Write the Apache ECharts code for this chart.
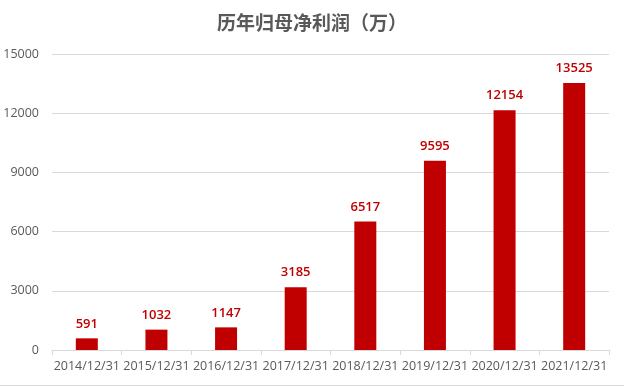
<!DOCTYPE html>
<html><head><meta charset="utf-8">
<script src="https://cdn.jsdelivr.net/npm/echarts@6/dist/echarts.min.js"></script>
<style>html,body{margin:0;padding:0;background:#fff}#c{width:624px;height:386px}</style>
</head><body><div id="c"></div>
<script>
const categories = ['2014/12/31','2015/12/31','2016/12/31','2017/12/31','2018/12/31','2019/12/31','2020/12/31','2021/12/31'];
const profit = [591, 1032, 1147, 3185, 6517, 9595, 12154, 13525];
const chartTitle = '历年归母净利润（万）';
const ff = '"Open Sans","Noto Sans CJK SC",sans-serif';
const chart = echarts.init(document.getElementById('c'), null, {renderer:'canvas'});
chart.setOption({
  animation:false,
  title:{text:chartTitle,left:'center',top:8,textStyle:{fontFamily:'"Noto Sans CJK SC",sans-serif',fontSize:19,fontWeight:'bold',color:'#595959'}},
  grid:{left:52,right:15,top:54,bottom:36},
  xAxis:{type:'category',data:categories,
    axisLine:{lineStyle:{color:'#d9d9d9'}},
    axisTick:{show:true,alignWithLabel:false,length:5,lineStyle:{color:'#d9d9d9'}},
    axisLabel:{color:'#595959',fontSize:12.5,fontFamily:ff,margin:10,interval:0}},
  yAxis:{type:'value',min:0,max:15000,interval:3000,
    axisLine:{show:false},axisTick:{show:false},
    axisLabel:{color:'#595959',fontSize:12.5,fontFamily:ff,margin:13,formatter:v=>String(v)},
    splitLine:{lineStyle:{color:'#d9d9d9'}}},
  series:[{type:'bar',data:profit,barWidth:22,
    itemStyle:{color:'#C00000'},
    label:{show:true,position:'top',distance:8,color:'#C00000',fontSize:13,fontWeight:600,fontFamily:ff}}],
  graphic:[{type:'line',shape:{x1:0,y1:385.5,x2:624,y2:385.5},style:{stroke:'#d9d9d9',lineWidth:1}}]
});
</script></body></html>
